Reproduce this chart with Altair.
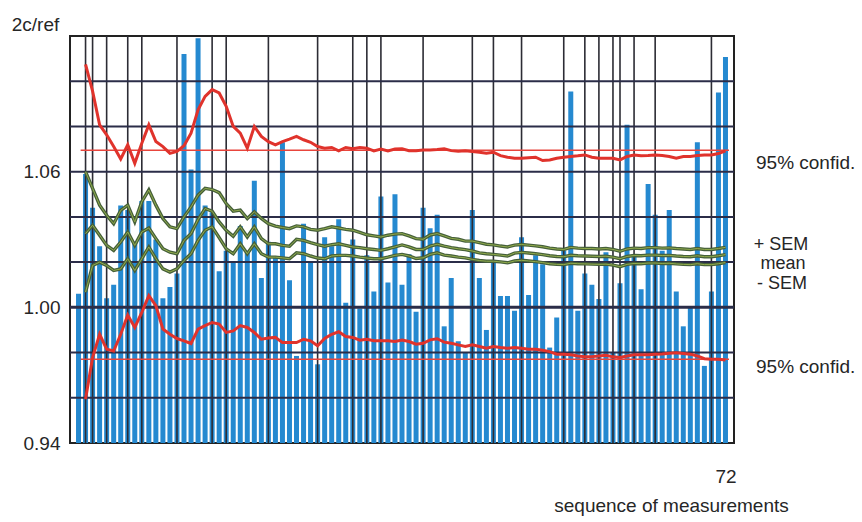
import altair as alt
import pandas as pd

# ---- data ----
bar_values = [
    1.006, 1.059, 1.044, 1.027, 1.004, 1.010, 1.045, 1.043, 1.029, 1.047,
    1.047, 1.030, 1.004, 1.009, 1.015, 1.112, 1.061, 1.119, 1.045, 1.042,
    1.016, 1.025, 1.020, 1.036, 1.024, 1.056, 1.013, 1.029, 1.022, 1.073,
    1.012, 0.9785, 1.037, 1.020, 0.9748, 1.031, 1.027, 1.039, 1.002, 1.030,
    0.9995, 1.023, 1.007, 1.049, 1.011, 1.050, 1.010, 1.0235, 0.998, 1.044,
    1.035, 1.041, 0.9916, 1.013, 0.985, 0.9798, 1.043, 1.013, 0.990, 1.0205,
    1.005, 1.005, 0.9985, 1.031, 1.0055, 1.023, 1.019, 0.9822, 0.9955, 1.025,
    1.0955, 0.9985, 1.015, 1.010, 1.0037, 1.0244, 0.980, 1.0106, 1.0808, 1.023,
    1.008, 1.0546, 1.041, 1.025, 1.043, 1.007, 0.9916, 1.0005, 1.073, 0.9741,
    1.007, 1.095, 1.1107,
]

# cumulative curves, from measurement 2 onward
upper_conf = [
    1.1074, 1.0956, 1.0807, 1.0763, 1.0711, 1.0656, 1.0719, 1.0637, 1.0726, 1.0807,
    1.0733, 1.0711, 1.0681, 1.0690, 1.0715, 1.0770, 1.0874, 1.0933, 1.0963, 1.0948,
    1.0889, 1.0800, 1.0770, 1.0704, 1.0800, 1.0756, 1.0733, 1.0719, 1.0733, 1.0744,
    1.0756, 1.0741, 1.0730, 1.0711, 1.0704, 1.0707, 1.0692, 1.0707, 1.0701, 1.0707,
    1.0704, 1.0692, 1.0700, 1.0692, 1.0700, 1.0701, 1.0693, 1.0693, 1.0696, 1.0696,
    1.0698, 1.0701, 1.0693, 1.0690, 1.0693, 1.0689, 1.0686, 1.0681, 1.0686, 1.0671,
    1.0664, 1.0659, 1.0659, 1.0662, 1.0664, 1.0649, 1.0652, 1.0659, 1.0664, 1.0667,
    1.0670, 1.0674, 1.0664, 1.0659, 1.0659, 1.0659, 1.0652, 1.0667, 1.0674, 1.0670,
    1.0671, 1.0674, 1.0671, 1.0667, 1.0659, 1.0667, 1.0667, 1.0671, 1.0674, 1.0674,
    1.0680, 1.0692,
]
lower_conf = [
    0.9593, 0.9778, 0.9881, 0.9815, 0.9807, 0.9881, 0.9966, 0.9911, 0.9978, 1.0052,
    1.0007, 0.9904, 0.9881, 0.9862, 0.9852, 0.9840, 0.9904, 0.9919, 0.9933, 0.9926,
    0.9889, 0.9896, 0.9919, 0.9911, 0.9889, 0.9859, 0.9864, 0.9867, 0.9844, 0.9844,
    0.9844, 0.9859, 0.9852, 0.9830, 0.9862, 0.9881, 0.9892, 0.9871, 0.9867, 0.9855,
    0.9859, 0.9852, 0.9852, 0.9852, 0.9849, 0.9855, 0.9849, 0.9837, 0.9841, 0.9856,
    0.9861, 0.9846, 0.9841, 0.9834, 0.9827, 0.9834, 0.9827, 0.9819, 0.9827, 0.9822,
    0.9819, 0.9822, 0.9819, 0.9815, 0.9815, 0.9810, 0.9804, 0.9793, 0.9793, 0.9790,
    0.9785, 0.9781, 0.9782, 0.9785, 0.9788, 0.9781, 0.9778, 0.9785, 0.9790, 0.9790,
    0.9790, 0.9793, 0.9794, 0.9797, 0.9799, 0.9796, 0.9793, 0.9785, 0.9773, 0.9770,
    0.9770, 0.9767,
]
plus_sem = [
    1.0600, 1.0526, 1.0452, 1.0407, 1.0370, 1.0429, 1.0452, 1.0378, 1.0467, 1.0519,
    1.0452, 1.0393, 1.0356, 1.0348, 1.0400, 1.0444, 1.0496, 1.0526, 1.0521, 1.0507,
    1.0459, 1.0425, 1.0430, 1.0393, 1.0422, 1.0393, 1.0370, 1.0359, 1.0353, 1.0348,
    1.0360, 1.0356, 1.0345, 1.0341, 1.0348, 1.0356, 1.0351, 1.0345, 1.0341, 1.0331,
    1.0321, 1.0316, 1.0311, 1.0319, 1.0324, 1.0326, 1.0316, 1.0304, 1.0301, 1.0320,
    1.0326, 1.0316, 1.0305, 1.0301, 1.0293, 1.0293, 1.0286, 1.0279, 1.0276, 1.0271,
    1.0267, 1.0275, 1.0278, 1.0275, 1.0272, 1.0268, 1.0262, 1.0258, 1.0256, 1.0265,
    1.0262, 1.0260, 1.0260, 1.0258, 1.0260, 1.0256, 1.0248, 1.0258, 1.0262, 1.0260,
    1.0264, 1.0264, 1.0262, 1.0263, 1.0260, 1.0258, 1.0256, 1.0260, 1.0256, 1.0256,
    1.0260, 1.0265,
]
mean_line = [
    1.0326, 1.0363, 1.0319, 1.0274, 1.0252, 1.0289, 1.0333, 1.0274, 1.0333, 1.0351,
    1.0304, 1.0259, 1.0244, 1.0237, 1.0296, 1.0326, 1.0388, 1.0437, 1.0425, 1.0378,
    1.0341, 1.0314, 1.0356, 1.0311, 1.0356, 1.0304, 1.0281, 1.0281, 1.0274, 1.0270,
    1.0301, 1.0296, 1.0286, 1.0277, 1.0270, 1.0277, 1.0281, 1.0274, 1.0267, 1.0264,
    1.0259, 1.0256, 1.0252, 1.0259, 1.0267, 1.0276, 1.0267, 1.0256, 1.0256, 1.0271,
    1.0279, 1.0271, 1.0264, 1.0259, 1.0255, 1.0249, 1.0241, 1.0237, 1.0234, 1.0231,
    1.0227, 1.0240, 1.0243, 1.0240, 1.0237, 1.0233, 1.0228, 1.0225, 1.0224, 1.0230,
    1.0228, 1.0227, 1.0226, 1.0225, 1.0226, 1.0222, 1.0215, 1.0225, 1.0229, 1.0228,
    1.0231, 1.0231, 1.0229, 1.0230, 1.0227, 1.0225, 1.0224, 1.0228, 1.0224, 1.0224,
    1.0228, 1.0233,
]
minus_sem = [
    1.0067, 1.0185, 1.0200, 1.0185, 1.0163, 1.0170, 1.0215, 1.0163, 1.0215, 1.0267,
    1.0215, 1.0170, 1.0156, 1.0170, 1.0207, 1.0237, 1.0296, 1.0341, 1.0356, 1.0308,
    1.0259, 1.0237, 1.0281, 1.0237, 1.0281, 1.0237, 1.0222, 1.0222, 1.0219, 1.0215,
    1.0241, 1.0237, 1.0227, 1.0218, 1.0215, 1.0227, 1.0230, 1.0230, 1.0227, 1.0222,
    1.0218, 1.0215, 1.0215, 1.0222, 1.0230, 1.0234, 1.0227, 1.0216, 1.0219, 1.0234,
    1.0241, 1.0231, 1.0227, 1.0222, 1.0219, 1.0212, 1.0207, 1.0204, 1.0204, 1.0201,
    1.0197, 1.0205, 1.0208, 1.0205, 1.0202, 1.0198, 1.0193, 1.0190, 1.0189, 1.0195,
    1.0193, 1.0192, 1.0191, 1.0190, 1.0191, 1.0187, 1.0180, 1.0190, 1.0194, 1.0193,
    1.0196, 1.0196, 1.0194, 1.0195, 1.0192, 1.0190, 1.0189, 1.0193, 1.0189, 1.0189,
    1.0193, 1.0198,
]

conf_levels = [1.0695, 0.977]          # thin horizontal red reference lines
conf_span = [1.3, 93.5]                 # measurement range they cover
grid_measurements = [2, 3, 5, 8, 10, 15, 20, 22, 28, 35, 40, 42, 44, 50, 57, 60,
                     64, 70, 73, 75, 77, 78, 80, 83, 91]
grid_levels = [0.96, 0.98, 1.02, 1.04, 1.06, 1.08, 1.10]
heavy_level = [1.00]
y_ticks = [0.94, 1.00, 1.06]
last_label = "72"

# ---- tables ----
n = len(bar_values)
seq = list(range(1, n + 1))
bars = pd.DataFrame({"seq": seq, "value": bar_values})

line_seq = list(range(2, n + 1))
red = pd.concat([
    pd.DataFrame({"seq": line_seq, "value": upper_conf, "series": "upper"}),
    pd.DataFrame({"seq": line_seq, "value": lower_conf, "series": "lower"}),
])
green = pd.concat([
    pd.DataFrame({"seq": line_seq, "value": plus_sem, "series": "+SEM"}),
    pd.DataFrame({"seq": line_seq, "value": mean_line, "series": "mean"}),
    pd.DataFrame({"seq": line_seq, "value": minus_sem, "series": "-SEM"}),
])
conf = pd.DataFrame({"level": conf_levels, "x1": conf_span[0], "x2": conf_span[1]})

FONT = "Liberation Sans"
TXT = "#262626"
W, H = 664, 407

xscale = alt.Scale(domain=[0.5, n + 0.5], nice=False, zero=False)
yscale = alt.Scale(domain=[0.94, 1.12], nice=False, zero=False)

x_enc = alt.X("seq:Q", scale=xscale, axis=alt.Axis(
    values=[n], labelExpr=f"'{last_label}'", ticks=False, domain=False, grid=False,
    labelFontSize=19, labelFont=FONT, labelColor=TXT, labelPadding=24,
    title="sequence of measurements", titleFont=FONT, titleFontSize=19,
    titleFontWeight="normal", titleColor=TXT, titleX=601, titleY=62,
    titleAnchor="start", titleAlign="center", titleBaseline="middle"))
y_enc = alt.Y("value:Q", scale=yscale, axis=alt.Axis(
    values=y_ticks, format=".2f", ticks=False, domain=False, grid=False,
    labelFontSize=19, labelFont=FONT, labelColor=TXT, labelPadding=10,
    title="2c/ref", titleAngle=0, titleFont=FONT, titleFontSize=19,
    titleFontWeight="normal", titleColor=TXT, titleX=-35, titleY=-12,
    titleAlign="center", titleBaseline="middle"))

bar_layer = alt.Chart(bars).mark_bar(size=5, color="#2589d0").encode(
    x=x_enc, y=y_enc, y2=alt.datum(0.94))

vgrid = alt.Chart(pd.DataFrame({"g": grid_measurements})).mark_rule(
    color="#2c2c34", strokeWidth=1.6).encode(x=alt.X("g:Q", scale=xscale))
hgrid = alt.Chart(pd.DataFrame({"g": grid_levels})).mark_rule(
    color="#2b2d48", strokeWidth=2).encode(y=alt.Y("g:Q", scale=yscale))
hheavy = alt.Chart(pd.DataFrame({"g": heavy_level})).mark_rule(
    color="#2b2d48", strokeWidth=3).encode(y=alt.Y("g:Q", scale=yscale))

conf_layer = alt.Chart(conf).mark_rule(color="#e8453c", strokeWidth=1.5).encode(
    x=alt.X("x1:Q", scale=xscale), x2="x2:Q", y=alt.Y("level:Q", scale=yscale))

red_layer = alt.Chart(red).mark_line(color="#e0332c", strokeWidth=3).encode(
    x=alt.X("seq:Q", scale=xscale), y=alt.Y("value:Q", scale=yscale),
    detail="series:N")
green_dark = alt.Chart(green).mark_line(color="#46603a", strokeWidth=3.4).encode(
    x=alt.X("seq:Q", scale=xscale), y=alt.Y("value:Q", scale=yscale),
    detail="series:N")
green_light = alt.Chart(green).mark_line(color="#93ad4c", strokeWidth=1.0).encode(
    x=alt.X("seq:Q", scale=xscale), y=alt.Y("value:Q", scale=yscale),
    detail="series:N")

def label(text, x, y, align="left", size=19):
    return alt.Chart(pd.DataFrame({"t": [text]})).mark_text(
        font=FONT, fontSize=size, color=TXT, align=align, baseline="middle").encode(
        x=alt.value(x), y=alt.value(y), text="t:N")

labels = (label("95% confid.", 686, 127)
          + label("+ SEM", 711, 209, "center", 18)
          + label("mean", 713, 228, "center", 18)
          + label("- SEM", 712, 248, "center", 18)
          + label("95% confid.", 686, 331))

chart = alt.layer(
    bar_layer, vgrid, hgrid, hheavy, conf_layer, red_layer,
    green_dark, green_light, labels
).properties(
    width=W, height=H,
    autosize=alt.AutoSizeParams(type="none"),
    padding={"left": 70, "top": 36, "right": 128, "bottom": 79},
    background="white",
).configure_view(stroke="#222222", strokeWidth=2)

chart.save("out.html", embed_options={"renderer": "svg", "actions": False})
